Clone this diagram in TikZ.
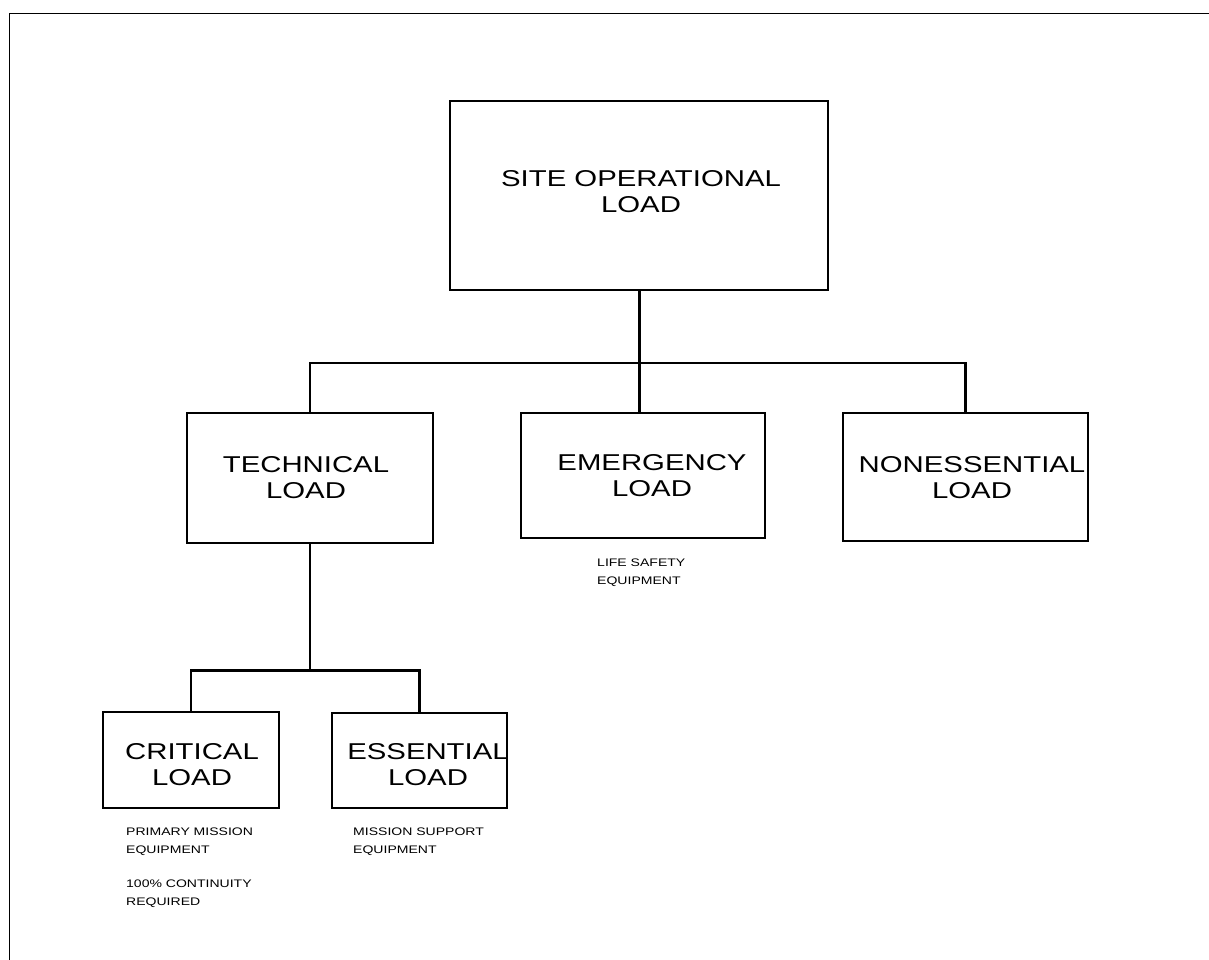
\documentclass[tikz,border=0pt]{standalone}
\usepackage{fontspec}
\newfontfamily\loadfont[FakeStretch=1.28]{Liberation Sans}
\newcommand{\bigload}{\loadfont\fontsize{23}{26}\selectfont}
\newcommand{\smallload}{\loadfont\fontsize{11}{17.5}\selectfont}

\begin{document}
\begin{tikzpicture}[x=1bp,y=-1bp,
  box/.style={draw,line width=1.3pt,inner sep=0pt,outer sep=0pt},
  conn/.style={line width=3pt},
  title/.style={font=\bigload,align=center,inner sep=0pt},
  note/.style={font=\smallload,align=left,anchor=north west,inner sep=0pt}]
\useasboundingbox (0,0) rectangle (1209,960);
\draw[line width=1pt] (9,960) -- (9,13) -- (1209,13);
% boxes
\node[box,minimum width=378bp,minimum height=189bp] (site) at (639,195.5) {};
\node[box,minimum width=246bp,minimum height=130bp] (tech) at (310,478) {};
\node[box,minimum width=244bp,minimum height=125bp] (emergency) at (643,475.5) {};
\node[box,minimum width=245bp,minimum height=128bp] (nonessential) at (965.5,477) {};
\node[box,minimum width=176bp,minimum height=96bp] (critical) at (191,760) {};
\node[box,minimum width=175bp,minimum height=95bp] (essential) at (419.5,760.5) {};
% box texts
\node[title] at (641,192) {SITE OPERATIONAL\\LOAD};
\node[title] at (306,478) {TECHNICAL\\LOAD};
\node[title] at (652,476) {EMERGENCY\\LOAD};
\node[title] at (972,478) {NONESSENTIAL\\LOAD};
\node[title] at (192,765) {CRITICAL\\LOAD};
\node[title] at (428,765) {ESSENTIAL\\LOAD};
% notes
\node[note] at (597,559) {LIFE SAFETY\\EQUIPMENT};
\node[note] at (126,828) {PRIMARY MISSION\\EQUIPMENT};
\node[note] at (126,880) {100\% CONTINUITY\\REQUIRED};
\node[note] at (353,828) {MISSION SUPPORT\\EQUIPMENT};
% connectors
\coordinate (bus) at (639,363);
\coordinate (subbus) at (308,670);
\draw[conn] (site.south) -- (bus);
\draw[conn] (tech.north) |- (bus) -| (nonessential.north);
\draw[conn] (bus) -- (bus |- emergency.north);
\draw[conn] (tech.south) -- (tech.south |- subbus);
\draw[conn] (critical.north) |- (subbus) -| (essential.north);
\end{tikzpicture}
\end{document}
